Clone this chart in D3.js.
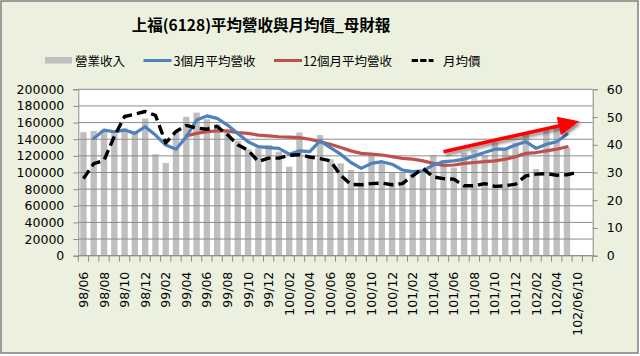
<!DOCTYPE html>
<html><head><meta charset="utf-8">
<script src="https://cdn.jsdelivr.net/npm/d3@7"></script>
<style>html,body{margin:0;padding:0;background:#fff}svg{display:block}</style>
</head><body>
<svg id="c" width="640" height="356"></svg>
<script>
// ---------------- data ----------------
const categories = [
 "98/06","98/07","98/08","98/09","98/10","98/11","98/12",
 "99/01","99/02","99/03","99/04","99/05","99/06","99/07","99/08","99/09","99/10","99/11","99/12",
 "100/01","100/02","100/03","100/04","100/05","100/06","100/07","100/08","100/09","100/10","100/11","100/12",
 "101/01","101/02","101/03","101/04","101/05","101/06","101/07","101/08","101/09","101/10","101/11","101/12",
 "102/01","102/02","102/03","102/04","102/05","102/06/10"," "
];
const revenue = [
 148500,150000,151000,150000,153000,149000,165000,
 122000,111500,150000,167000,172000,164000,158000,150000,138000,128000,129000,133000,
 125000,107000,148000,120000,145000,116000,111000,103000,101000,122000,112000,100000,
 100000,103000,103000,121000,115000,106000,124000,127000,121000,136000,127000,136000,
 148000,104000,151000,157000,130000,null,null
];
const avg3 = [
 null,141000,151000,149000,151000,147000,155000,
 145000,133000,128000,143000,163000,168000,165000,157000,147000,137000,131000,130000,
 129000,122000,126000,125000,138000,130000,122000,112000,105000,111000,113000,110000,
 103000,101000,102000,109000,113000,114000,116000,120000,124000,128000,128000,133000,
 137000,129000,134000,137000,146000,null,null
];
const avg12 = [
 null,null,null,null,null,null,null,
 null,null,null,144000,147000,149000,150000,150000,148000,147000,145000,144000,
 143000,142500,142000,140000,137000,134000,130000,126000,123000,122000,121000,119000,
 117000,116000,114000,111000,108500,109000,111000,112000,113000,114000,116000,119000,
 123000,124000,126000,128000,131000,null,null
];
const price = [
 27.8,33.2,34.4,43,50.2,51,52,
 50.6,40.7,44.8,47,46,45.6,46.6,43.6,40,38,34,35.2,
 35.2,36.2,36.4,35.6,35,34.2,29,25.7,25.6,26,26.2,25.6,
 26,28.8,31.5,28.4,27.8,27.6,25.2,25.2,26,25,25.2,25.8,
 28.8,29.4,29.6,29,29.2,30,null
];
const leftTicks = [0,20000,40000,60000,80000,100000,120000,140000,160000,180000,200000];
const rightTicks = [0,10,20,30,40,50,60];
const seriesNames = ["營業收入","3個月平均營收","12個月平均營收","月均價"];
const titleText = "上福(6128)平均營收與月均價_母財報";
// trend arrow annotation (in data units)
const arrowFrom = {cat:"101/05", value:125000};
const arrowTo = {cat:"102/06/10", value:161500};

// ---------------- drawing ----------------
const W = 640, H = 356;
const P = {left:78.3, right:592.7, top:89.3, bottom:255.7};
const NUM_FONT = "'DejaVu Sans', Verdana, sans-serif";
const CJK_FONT = "'Noto Sans CJK TC','Noto Sans CJK SC',sans-serif";
const GRID = "#8c8c8c";

const svg = d3.select("#c");
const defs = svg.append("defs");
const f = defs.append("filter").attr("id","shadow").attr("x","-20%").attr("y","-50%").attr("width","140%").attr("height","200%");
f.append("feDropShadow").attr("dx",2).attr("dy",2.5).attr("stdDeviation",1.6).attr("flood-color","#000").attr("flood-opacity",0.45);

svg.append("rect").attr("width",W).attr("height",H).attr("fill","#fff");
svg.append("rect").attr("x",1).attr("y",1).attr("width",637).attr("height",352)
  .attr("fill","#ebf1de").attr("stroke","#7f7f7f").attr("stroke-width",1.5);

const x = d3.scaleBand().domain(categories).range([P.left,P.right]).paddingInner(0.38).paddingOuter(0.19);
const y = d3.scaleLinear().domain([0,200000]).range([P.bottom,P.top]);
const yR = d3.scaleLinear().domain([0,60]).range([P.bottom,P.top]);
const cx = c => x(c) + x.bandwidth()/2;

// plot area
svg.append("rect").attr("x",P.left).attr("y",P.top).attr("width",P.right-P.left).attr("height",P.bottom-P.top).attr("fill","#fff");

// bars
svg.append("g").selectAll("rect").data(categories.map((c,i)=>({c,v:revenue[i]})).filter(d=>d.v!=null))
  .join("rect").attr("x",d=>x(d.c)).attr("width",x.bandwidth())
  .attr("y",d=>y(d.v)).attr("height",d=>y(0)-y(d.v)).attr("fill","#bfbfbf");

// gridlines
svg.append("g").selectAll("line").data(leftTicks).join("line")
  .attr("x1",P.left).attr("x2",P.right).attr("y1",d=>y(d)).attr("y2",d=>y(d))
  .attr("stroke",GRID).attr("stroke-width",1);

// axes
const gl = svg.append("g").attr("transform",`translate(${P.left},0)`)
  .call(d3.axisLeft(y).tickValues(leftTicks).tickSize(5).tickPadding(9).tickFormat(d3.format("d")));
const gr = svg.append("g").attr("transform",`translate(${P.right},0)`)
  .call(d3.axisRight(yR).tickValues(rightTicks).tickSize(5).tickPadding(9));
[gl,gr].forEach(g=>{
  g.selectAll("path,line").attr("stroke",GRID);
  g.selectAll("text").attr("font-family",NUM_FONT).attr("font-size",12.5).attr("fill","#000");
});
// bottom axis
const step = x.step();
const bounds = categories.map(c=>cx(c)-step/2).concat([cx(categories[categories.length-1])+step/2]);
svg.append("line").attr("x1",P.left).attr("x2",P.right).attr("y1",P.bottom).attr("y2",P.bottom).attr("stroke",GRID);
svg.append("g").selectAll("line").data(bounds).join("line")
  .attr("x1",d=>d).attr("x2",d=>d).attr("y1",P.bottom).attr("y2",P.bottom+6).attr("stroke",GRID);
svg.append("g").selectAll("text").data(categories.filter((c,i)=>i%2===0 && c.trim()))
  .join("text").attr("transform",d=>`translate(${cx(d)},${P.bottom+16}) rotate(-90)`)
  .attr("text-anchor","end").attr("dy","0.36em")
  .attr("font-family",NUM_FONT).attr("font-size",12.5).attr("fill","#000").text(d=>d);

// lines
const mk = (arr,sc)=>d3.line().defined(d=>d.v!=null).x(d=>cx(d.c)).y(d=>sc(d.v))(categories.map((c,i)=>({c,v:arr[i]})));
svg.append("path").attr("d",mk(avg12,y)).attr("fill","none").attr("stroke","#c0504d").attr("stroke-width",3.2).attr("stroke-linejoin","round").attr("stroke-linecap","round");
svg.append("path").attr("d",mk(avg3,y)).attr("fill","none").attr("stroke","#4f81bd").attr("stroke-width",3.2).attr("stroke-linejoin","round").attr("stroke-linecap","round");
svg.append("path").attr("d",mk(price,yR)).attr("fill","none").attr("stroke","#000").attr("stroke-width",3.4).attr("stroke-dasharray","10,5").attr("stroke-linejoin","round");

// arrow
{
  const x1 = cx(arrowFrom.cat), y1 = y(arrowFrom.value);
  const x2 = cx(arrowTo.cat)+2, y2 = y(arrowTo.value);
  const dx = x2-x1, dy = y2-y1, L = Math.hypot(dx,dy), ux = dx/L, uy = dy/L, px = -uy, py = ux;
  const hl = 21, hw = 9.5;
  const bx = x2-ux*hl, by = y2-uy*hl;
  const g = svg.append("g").attr("filter","url(#shadow)");
  g.append("line").attr("x1",x1).attr("y1",y1).attr("x2",bx+ux*2).attr("y2",by+uy*2).attr("stroke","#ff0000").attr("stroke-width",3.6);
  g.append("path").attr("d",`M${x2},${y2}L${bx+px*hw},${by+py*hw}L${bx-px*hw},${by-py*hw}Z`).attr("fill","#ff0000");
}

// title
svg.append("text").attr("x",261).attr("y",31).attr("text-anchor","middle")
  .attr("font-family",CJK_FONT).attr("font-size",15.5).attr("font-weight","bold").attr("fill","#000").text(titleText);

// legend
const lg = svg.append("g").attr("font-family",CJK_FONT).attr("font-size",12.5).attr("fill","#000");
lg.append("rect").attr("x",45).attr("y",57).attr("width",27).attr("height",6.5).attr("fill","#bfbfbf");
lg.append("text").attr("x",75).attr("y",65.5).text(seriesNames[0]);
lg.append("line").attr("x1",143.5).attr("x2",171.5).attr("y1",60.5).attr("y2",60.5).attr("stroke","#4f81bd").attr("stroke-width",3);
lg.append("text").attr("x",173.5).attr("y",65.5).text(seriesNames[1]);
lg.append("line").attr("x1",274).attr("x2",302).attr("y1",60.5).attr("y2",60.5).attr("stroke","#c0504d").attr("stroke-width",3);
lg.append("text").attr("x",303).attr("y",65.5).text(seriesNames[2]);
lg.append("line").attr("x1",411.7).attr("x2",433.5).attr("y1",60.5).attr("y2",60.5).attr("stroke","#000").attr("stroke-width",3).attr("stroke-dasharray","6.3,2.2");
lg.append("text").attr("x",443).attr("y",65.5).text(seriesNames[3]);
</script>
</body></html>
